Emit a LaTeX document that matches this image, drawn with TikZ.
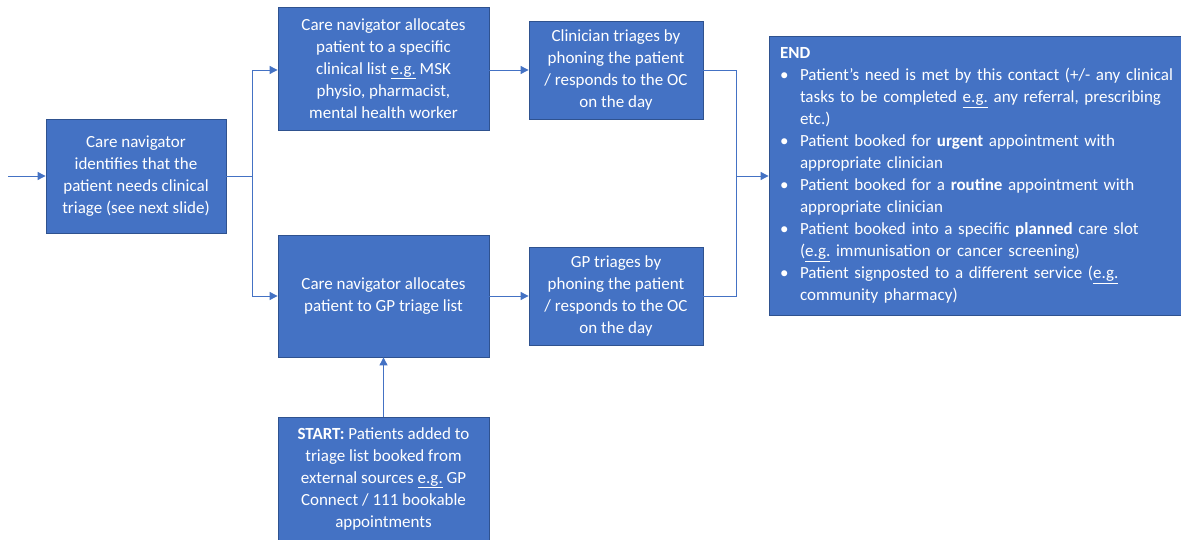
\documentclass[tikz,border=0pt]{standalone}
\usepackage{fontspec}
\setmainfont{Carlito}
\usetikzlibrary{arrows.meta}
\definecolor{boxfill}{HTML}{4472C4}
\definecolor{boxline}{HTML}{2F528F}
\definecolor{conn}{HTML}{4472C4}
\newcommand{\eg}{\underline{e.g.}}
\newcommand{\bul}[1]{\mbox{\makebox[20pt][l]{•}#1}}
\newcommand{\ind}[1]{\mbox{\hspace{20pt}#1}}
\tikzset{
  box/.style={draw=boxline, line width=0.8pt, fill=boxfill, text=white, inner sep=0pt,
    align=center, font=\fontsize{17}{22}\selectfont},
  conn/.style={draw=conn, line width=0.9pt},
  arr/.style={conn, -{Triangle[length=8pt,width=8pt]}}
}
\begin{document}
\begin{tikzpicture}[x=1pt,y=-1pt]
\useasboundingbox (0,0) rectangle (1181,540);
\node[box, minimum width=180pt, minimum height=114pt] (A) at (136,176)
  {Care navigator\\identifies that the\\patient needs clinical\\triage (see next slide)};
\node[box, minimum width=211pt, minimum height=123pt] (B) at (383.5,68.5)
  {Care navigator allocates\\patient to a specific\\clinical list \eg{} MSK\\physio, pharmacist,\\mental health worker};
\node[box, minimum width=174pt, minimum height=98pt] (C) at (616,70)
  {Clinician triages by\\phoning the patient\\/ responds to the OC\\on the day};
\node[box, minimum width=211pt, minimum height=122pt] (D) at (383.5,296)
  {Care navigator allocates\\patient to GP triage list};
\node[box, minimum width=174pt, minimum height=98pt] (E) at (616,296)
  {GP triages by\\phoning the patient\\/ responds to the OC\\on the day};
\node[box, minimum width=211pt, minimum height=123pt] (F) at (383.5,478.5)
  {\textbf{START:} Patients added to\\triage list booked from\\external sources \eg{} GP\\Connect / 111 bookable\\appointments};
\node[box, minimum width=412pt, minimum height=279pt, align=left, text width=390pt] (G) at (975,175.5)
  {\textbf{END}\\
   \bul{Patient’s need is met by this contact (+/- any clinical}\\
   \ind{tasks to be completed \eg{} any referral, prescribing}\\
   \ind{etc.)}\\
   \bul{Patient booked for \textbf{urgent} appointment with}\\
   \ind{appropriate clinician}\\
   \bul{Patient booked for a \textbf{routine} appointment with}\\
   \ind{appropriate clinician}\\
   \bul{Patient booked into a specific \textbf{planned} care slot}\\
   \ind{(\eg{} immunisation or cancer screening)}\\
   \bul{Patient signposted to a different service (\eg{}}\\
   \ind{community pharmacy)}};
\coordinate (in) at (8,176);
\coordinate (split) at (252,176);
\coordinate (join) at (736,176);
\draw[arr] (in) -- (A.west);
\draw[conn] (A.east) -- (split);
\draw[arr] (split) |- (B.west |- 0,70);
\draw[arr] (split) |- (D.west);
\draw[arr] (B.east |- 0,70) -- (C.west);
\draw[arr] (F.north) -- (D.south);
\draw[arr] (E.east) -| (join) -- (G.west |- join);
\draw[conn] (C.east) -| (join);
\draw[arr] (D.east) -- (E.west);
\end{tikzpicture}
\end{document}
